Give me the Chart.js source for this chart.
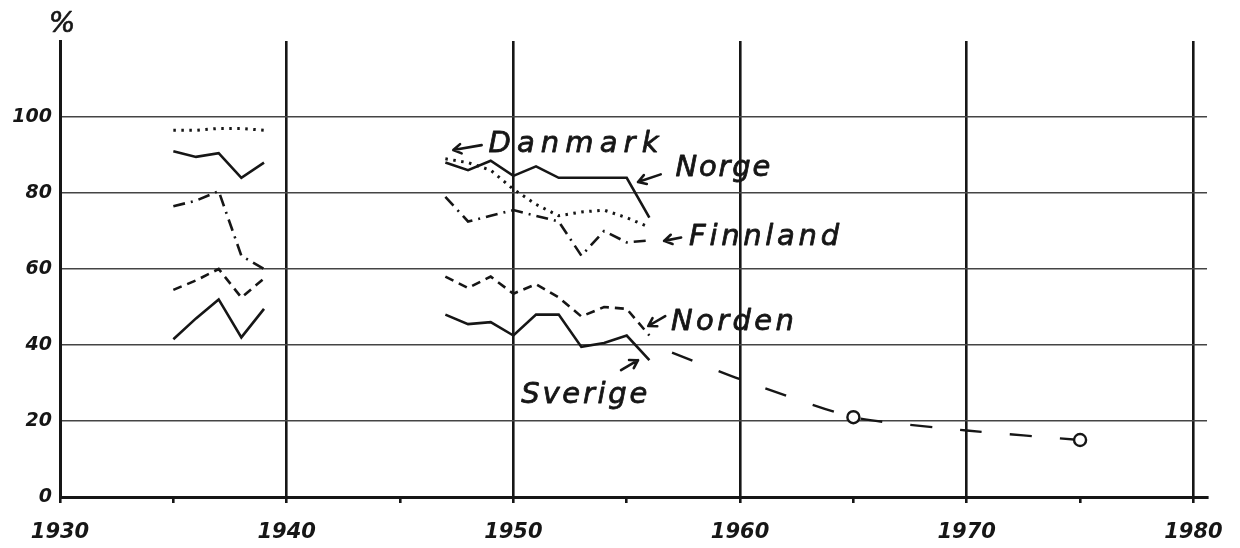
<!DOCTYPE html>
<html>
<head>
<meta charset="utf-8">
<script src="https://cdn.jsdelivr.net/npm/chart.js@4.4.1/dist/chart.umd.min.js"></script>
<style>
  html, body { margin: 0; padding: 0; background: #fff; }
  #wrap { width: 1240px; height: 548px; }
</style>
</head>
<body>
<div id="wrap"><canvas id="sharesChart"></canvas></div>
<script>
// years (pre-war and post-war parts)
const preYears = [1935, 1936, 1937, 1938, 1939];
const postYears = [1947, 1948, 1949, 1950, 1951, 1952, 1953, 1954, 1955, 1956];

const danmarkPre = [96.5, 96.5, 97, 97, 96.5];
const danmarkPost = [89, 88, 86, 81, 77, 74, 75, 75.5, 73.5, 71];
const norgePre = [91, 89.5, 90.5, 84, 88];
const norgePost = [88, 86, 88.5, 84.5, 87, 84, 84, 84, 84, 73.5];
const finnlandPre = [76.5, 78, 80.5, 63.5, 60];
const finnlandPost = [79, 72.5, 74, 75.5, 74, 72.5, 63.5, 70, 67, 67.5];
const nordenPre = [54.5, 57, 60, 52.5, 57.5];
const nordenPost = [58, 55, 58, 53.5, 56, 52.5, 47.5, 50, 49.5, 42.5];
const sverigePre = [41.5, 47, 52, 42, 49.5];
const sverigePost = [48, 45.5, 46, 42.5, 48, 48, 39.5, 40.5, 42.5, 36];

// forecast line with circles at 1965 and 1975
const forecastYears = [1957, 1960, 1965, 1970, 1975];
const forecastValues = [38, 31, 21, 17.5, 15];
const forecastMarked = [1965, 1975];

const xTicks = [1930, 1940, 1950, 1960, 1970, 1980];
const yTicks = [0, 20, 40, 60, 80, 100];

function joinParts(pre, post) {
  const pts = preYears.map((x, i) => ({ x: x, y: pre[i] }));
  pts.push({ x: 1943, y: null });
  return pts.concat(postYears.map((x, i) => ({ x: x, y: post[i] })));
}

function series(label, pre, post, dash, width) {
  return {
    label: label,
    data: joinParts(pre, post),
    borderColor: '#161616',
    borderWidth: width || 2.6,
    borderDash: dash,
    pointRadius: 0,
    tension: 0,
    spanGaps: false,
    fill: false
  };
}

// hand lettering: start and baseline in data units, arrow tail -> tip
const notes = [
  { text: 'Danmark', x: 1948.9, y: 90.8, width: 170, tail: [1948.6, 92.6], tip: [1947.35, 91.3] },
  { text: 'Norge', x: 1957.15, y: 84.5, width: 95, tail: [1956.5, 84.9], tip: [1955.5, 82.9] },
  { text: 'Finnland', x: 1957.75, y: 66.3, width: 150, tail: [1957.4, 68.3], tip: [1956.65, 67.4] },
  { text: 'Norden', x: 1956.95, y: 43.9, width: 123, tail: [1956.7, 47.6], tip: [1955.95, 45.0] },
  { text: 'Sverige', x: 1950.35, y: 24.7, width: 126, tail: [1954.75, 33.4], tip: [1955.5, 36.0] }
];

const notesPlugin = {
  id: 'notes',
  afterDraw(chart) {
    const c = chart.ctx;
    const xs = chart.scales.x, ys = chart.scales.y;
    c.save();
    c.fillStyle = '#161616';
    c.strokeStyle = '#161616';
    c.lineCap = 'round';
    c.lineJoin = 'round';
    c.textBaseline = 'alphabetic';
    c.font = 'italic 29px "DejaVu Sans"';
    notes.forEach(n => {
      c.letterSpacing = '0px';
      const w = c.measureText(n.text).width;
      c.letterSpacing = Math.max(0, (n.width - w) / (n.text.length - 1)) + 'px';
      const px = xs.getPixelForValue(n.x), py = ys.getPixelForValue(n.y);
      c.lineWidth = 0.8;
      c.fillText(n.text, px, py);
      c.strokeText(n.text, px, py);
      const tx = xs.getPixelForValue(n.tail[0]), ty = ys.getPixelForValue(n.tail[1]);
      const hx = xs.getPixelForValue(n.tip[0]), hy = ys.getPixelForValue(n.tip[1]);
      const a = Math.atan2(hy - ty, hx - tx);
      c.lineWidth = 2.6;
      c.beginPath();
      c.moveTo(tx, ty);
      c.lineTo(hx, hy);
      c.moveTo(hx - 9 * Math.cos(a - 0.55), hy - 9 * Math.sin(a - 0.55));
      c.lineTo(hx, hy);
      c.lineTo(hx - 9 * Math.cos(a + 0.55), hy - 9 * Math.sin(a + 0.55));
      c.stroke();
    });
    c.letterSpacing = '0px';
    c.font = 'italic 28px "DejaVu Sans"';
    c.textAlign = 'center';
    c.lineWidth = 0.6;
    c.fillText('%', 62, 32);
    c.strokeText('%', 62, 32);
    c.restore();
  }
};

document.addEventListener('DOMContentLoaded', function() {
  const ctx = document.getElementById('sharesChart').getContext('2d');
  new Chart(ctx, {
    type: 'line',
    data: {
      datasets: [
        series('Danmark', danmarkPre, danmarkPost, [2.5, 5.5], 3),
        series('Norge', norgePre, norgePost, []),
        series('Finnland', finnlandPre, finnlandPost, [12, 6, 2, 6]),
        series('Norden', nordenPre, nordenPost, [9, 6]),
        series('Sverige', sverigePre, sverigePost, []),
        {
          label: 'Prognos',
          data: forecastYears.map((x, i) => ({ x: x, y: forecastValues[i] })),
          borderColor: '#161616',
          borderWidth: 2.4,
          borderDash: [22, 28],
          pointRadius: forecastYears.map(x => forecastMarked.includes(x) ? 6 : 0),
          pointBorderWidth: 2.4,
          pointBorderColor: '#161616',
          pointBackgroundColor: '#fff',
          tension: 0.2,
          fill: false
        }
      ]
    },
    options: {
      responsive: true,
      maintainAspectRatio: false,
      animation: false,
      layout: { padding: { top: 41, right: 30, left: 0, bottom: 0 } },
      plugins: {
        legend: { display: false },
        tooltip: { enabled: false }
      },
      scales: {
        x: {
          type: 'linear',
          min: 1930,
          max: 1980.6,
          afterFit: s => { s.height = 51; },
          border: { color: '#161616', width: 3 },
          grid: {
            color: c => xTicks.includes(c.tick.value) ? '#161616' : 'transparent',
            tickColor: '#161616',
            lineWidth: 2.6,
            tickLength: 6
          },
          ticks: {
            stepSize: 5,
            includeBounds: false,
            autoSkip: false,
            maxRotation: 0,
            padding: 17,
            color: '#161616',
            font: { family: 'DejaVu Sans', size: 21, style: 'italic', weight: 'bold' },
            callback: v => xTicks.includes(v) ? String(v) : ''
          }
        },
        y: {
          min: 0,
          max: 120,
          afterFit: s => { s.width = 60; },
          border: { color: '#161616', width: 3 },
          grid: {
            color: c => (c.tick.value > 0 && c.tick.value < 120) ? '#444' : 'transparent',
            lineWidth: 1.5,
            drawTicks: false
          },
          ticks: {
            stepSize: 20,
            padding: 8,
            color: '#161616',
            font: { family: 'DejaVu Sans', size: 19, style: 'italic', weight: 'bold' },
            callback: v => yTicks.includes(v) ? String(v) : ''
          }
        }
      }
    },
    plugins: [notesPlugin]
  });
});
</script>
</body>
</html>
